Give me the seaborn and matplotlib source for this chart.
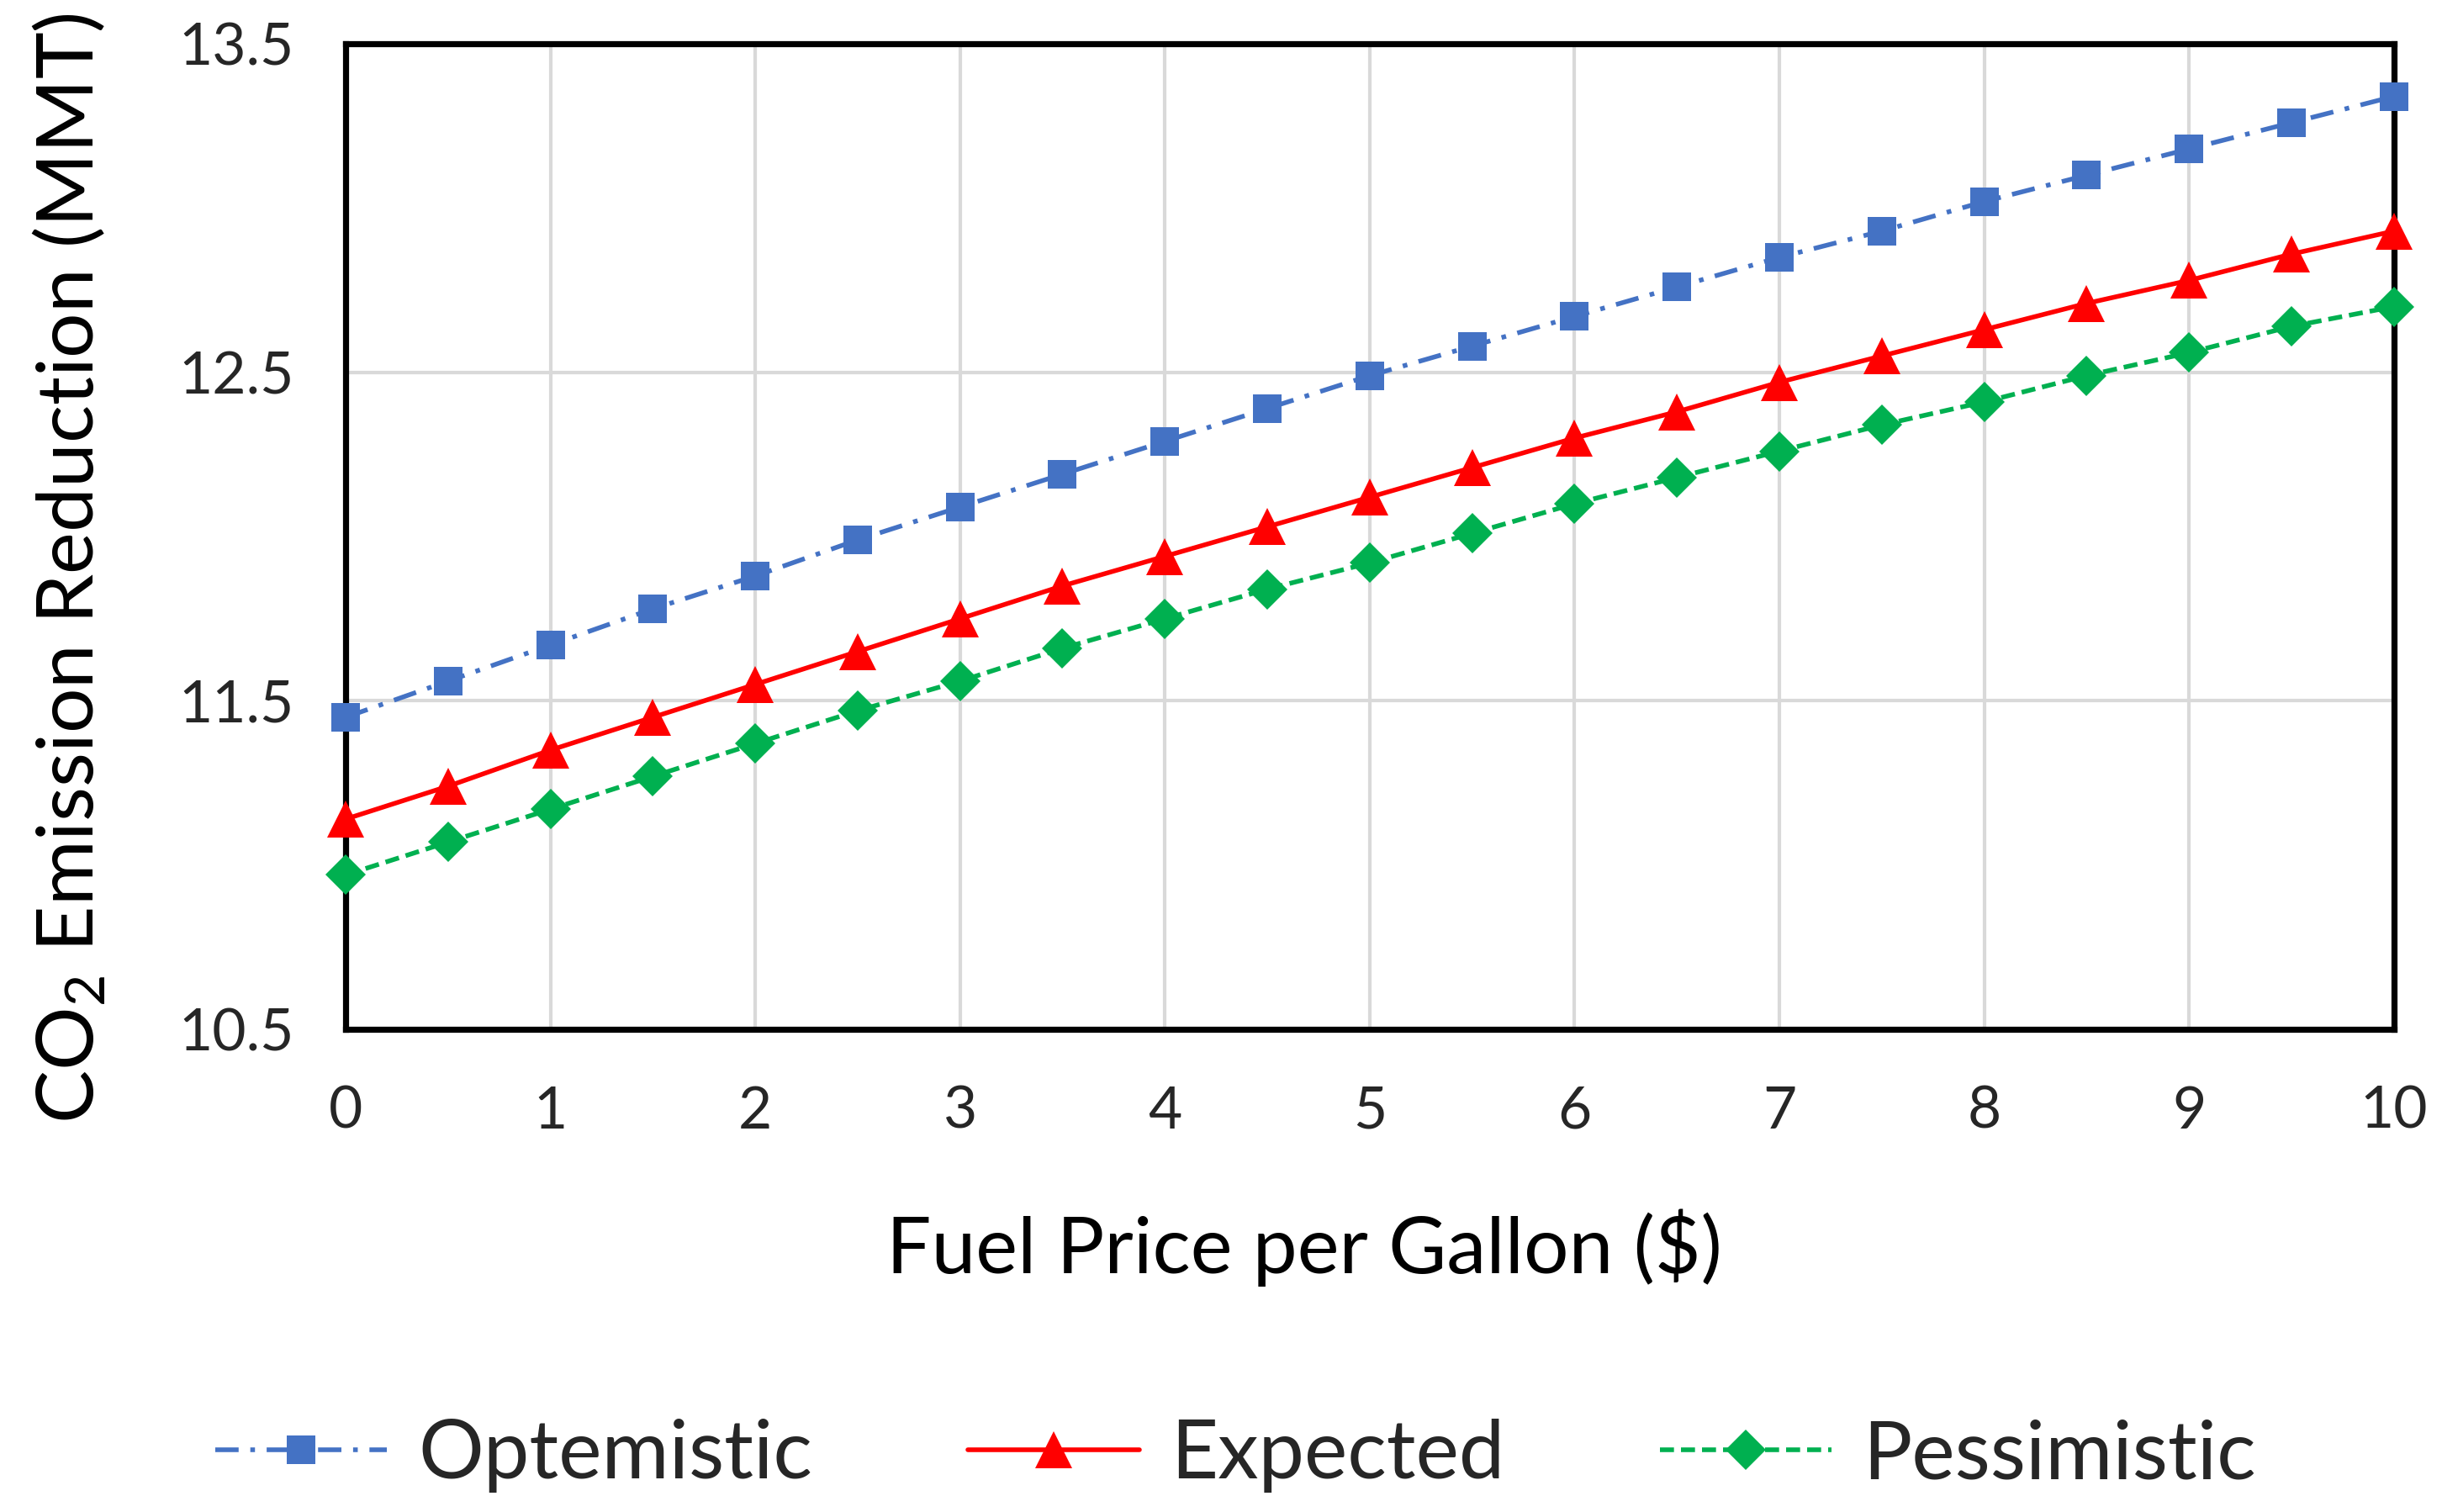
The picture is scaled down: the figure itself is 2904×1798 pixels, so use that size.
import matplotlib
matplotlib.use("Agg")
import matplotlib.pyplot as plt
import pandas as pd
import seaborn as sns

# Данные
fuel_price = [0, 0.5, 1, 1.5, 2, 2.5, 3, 3.5, 4, 4.5, 5,
              5.5, 6, 6.5, 7, 7.5, 8, 8.5, 9, 9.5, 10]
optemistic = [11.45, 11.56, 11.67, 11.78, 11.88, 11.99, 12.09, 12.19, 12.29, 12.39, 12.49,
              12.58, 12.67, 12.76, 12.85, 12.93, 13.02, 13.10, 13.18, 13.26, 13.34]
expected = [11.14, 11.24, 11.35, 11.45, 11.55, 11.65, 11.75, 11.85, 11.94, 12.03, 12.12,
            12.21, 12.30, 12.38, 12.47, 12.55, 12.63, 12.71, 12.78, 12.86, 12.93]
pessimistic = [10.97, 11.07, 11.17, 11.27, 11.37, 11.47, 11.56, 11.66, 11.75, 11.84, 11.92,
               12.01, 12.10, 12.18, 12.26, 12.34, 12.41, 12.49, 12.56, 12.64, 12.70]
y_ticks = [10.5, 11.5, 12.5, 13.5]
x_ticks = list(range(0, 11))

sns.set_style("white")
plt.rcParams['font.family'] = ['Lato', 'DejaVu Sans']
plt.rcParams['mathtext.fontset'] = 'custom'
plt.rcParams['mathtext.rm'] = 'Lato'
plt.rcParams['mathtext.default'] = 'regular'

df = pd.DataFrame({'price': fuel_price, 'Optemistic': optemistic,
                   'Expected': expected, 'Pessimistic': pessimistic})

fig = plt.figure(figsize=(14.52, 8.99), dpi=200)
ax = fig.add_axes([0.1415, 0.3192, 0.8388, 0.6518])

# название, цвет, маркер, размер маркера, стиль линии
styles = [
    ('Optemistic', '#4472C4', 's', 12.5, (0, (5, 2.5, 1, 2.5))),
    ('Expected', '#FF0000', '^', 16, '-'),
    ('Pessimistic', '#00B050', 'D', 12, (0, (3, 1.5))),
]

for name, color, marker, msize, ls in styles:
    sns.lineplot(data=df, x='price', y=name, ax=ax, color=color, marker=marker,
                 markersize=msize, markeredgewidth=0, linestyle=ls, linewidth=2.0,
                 label=name, clip_on=False, zorder=5)

ax.set_xlim(0, 10)
ax.set_ylim(10.5, 13.5)
ax.set_xticks(x_ticks)
ax.set_yticks(y_ticks)
ax.set_yticklabels([f"{v:.1f}" for v in y_ticks])
ax.grid(True, color='#d9d9d9', linewidth=1.5)
ax.tick_params(length=0, labelsize=25, colors='#262626')
ax.tick_params(axis='x', pad=24)
ax.tick_params(axis='y', pad=22)
for spine in ax.spines.values():
    spine.set_color('black')
    spine.set_linewidth(2.6)

ax.set_xlabel("Fuel Price per Gallon ($)", fontsize=34, color='black')
ax.xaxis.set_label_coords(0.468, -0.182)
ax.set_ylabel("CO$_2$ Emission Reduction (MMT)", fontsize=34, color='black')
ax.yaxis.set_label_coords(-0.116, 0.468)

ax.legend_.remove()
handles, labels = ax.get_legend_handles_labels()
fig.legend(handles, labels, loc='center', bbox_to_anchor=(0.506, 0.037), ncol=3,
           frameon=False, fontsize=35, handlelength=2.1, handletextpad=0.38,
           columnspacing=1.9)

fig.savefig('out.png', dpi=200)
